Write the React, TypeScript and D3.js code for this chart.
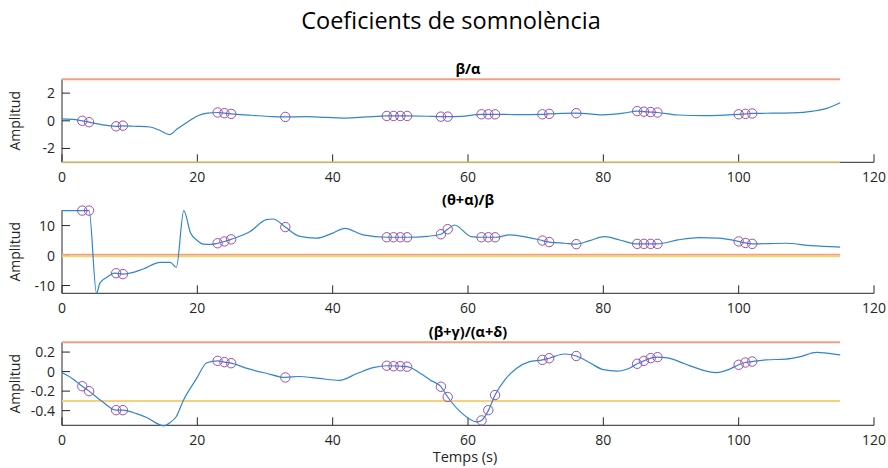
import React from "react";
import * as d3 from "d3";

const W = 888;
const H = 468;

const xTicks = [0, 20, 40, 60, 80, 100, 120];
const eventTimes = [3, 4, 8, 9, 23, 24, 25, 33, 48, 49, 50, 51, 56, 57, 62, 63, 64, 71, 72, 76, 85, 86, 87, 88, 100, 101, 102];

// Subplot 1: beta/alpha
const t1 = [0, 2, 3, 4, 6, 8, 9, 11, 13, 14.5, 15.9, 17, 18.5, 20, 21.5, 23, 24, 25, 28, 31, 33, 36, 39, 42, 45, 48, 51, 54, 56, 57, 59, 62, 64, 67, 71, 72, 76, 78, 80, 83, 85, 86, 87, 88, 91, 95, 100, 101, 102, 105, 108, 111, 113, 115];
const v1 = [0.14, 0.08, 0.0, -0.1, -0.3, -0.4, -0.37, -0.4, -0.45, -0.7, -1.0, -0.6, -0.1, 0.35, 0.55, 0.6, 0.55, 0.5, 0.4, 0.3, 0.28, 0.3, 0.25, 0.2, 0.28, 0.35, 0.35, 0.33, 0.3, 0.3, 0.32, 0.47, 0.47, 0.45, 0.47, 0.5, 0.55, 0.5, 0.43, 0.55, 0.7, 0.66, 0.63, 0.6, 0.42, 0.38, 0.47, 0.5, 0.53, 0.55, 0.57, 0.7, 0.9, 1.3];
const e1 = [0, -0.1, -0.4, -0.35, 0.6, 0.55, 0.5, 0.28, 0.35, 0.35, 0.35, 0.35, 0.3, 0.3, 0.47, 0.47, 0.47, 0.47, 0.5, 0.55, 0.7, 0.66, 0.63, 0.6, 0.47, 0.5, 0.53];

// Subplot 2: (theta+alpha)/beta
const t2 = [0, 4.0, 5.1, 5.6, 6.6, 7.8, 9, 12, 14.5, 16, 16.9, 18.0, 19.0, 19.9, 20.9, 22, 23, 24, 25, 27.8, 30.2, 31.2, 33, 35, 37.6, 40, 41.8, 44.5, 48, 51, 54, 56, 57, 58, 60.5, 62, 64, 66.2, 69, 71, 72, 74.3, 76, 78, 80.2, 82.4, 85, 88, 91, 94.2, 97, 100, 101, 102, 107, 110.7, 115];
const v2 = [15, 15, -12.6, -9.2, -7.3, -5.9, -6.2, -4.5, -2.3, -2.3, -3.9, 15, 7.5, 5.2, 3.8, 3.7, 4.1, 4.7, 5.4, 8.0, 12.0, 12.2, 9.5, 6.5, 5.8, 7.5, 9.1, 6.9, 6.1, 6.1, 6.4, 7.1, 8.8, 10.2, 6.3, 6.1, 6.1, 6.9, 6.0, 5.0, 4.5, 4.1, 3.8, 5.0, 6.3, 5.2, 3.9, 3.9, 5.2, 6.0, 5.8, 4.7, 4.2, 3.9, 4.1, 3.3, 2.8];
const e2 = [15, 15, -5.9, -6.2, 4.1, 4.7, 5.4, 9.5, 6.1, 6.1, 6.1, 6.1, 7.1, 8.8, 6.1, 6.1, 6.1, 5.0, 4.5, 3.8, 3.9, 3.9, 3.9, 3.9, 4.7, 4.2, 3.9];

// Subplot 3: (beta+gamma)/(alpha+delta)
const t3 = [0, 1.5, 3, 4, 6, 8, 9, 11, 12.5, 14, 15, 16, 16.9, 17.9, 19.9, 21.4, 23, 24, 25, 27.5, 30.2, 33, 35, 38, 41, 43.6, 46, 48, 51, 53, 54.4, 56, 57, 59, 61.3, 62, 63, 64, 65.5, 67.2, 69, 71, 72, 74.3, 76, 78, 80, 82, 84, 85, 86, 87, 88, 89.5, 92, 94, 96.7, 98.5, 100, 101, 102, 104, 107, 109, 111.5, 113, 115];
const v3 = [-0.01, -0.07, -0.15, -0.2, -0.31, -0.395, -0.395, -0.43, -0.47, -0.53, -0.556, -0.52, -0.46, -0.3, -0.07, 0.09, 0.11, 0.097, 0.086, 0.03, -0.017, -0.06, -0.05, -0.07, -0.09, -0.02, 0.04, 0.06, 0.05, -0.02, -0.085, -0.155, -0.26, -0.42, -0.515, -0.5, -0.4, -0.24, -0.08, 0.035, 0.1, 0.12, 0.137, 0.18, 0.16, 0.09, 0.02, 0.005, 0.04, 0.08, 0.11, 0.138, 0.148, 0.14, 0.08, 0.03, -0.01, 0.02, 0.07, 0.093, 0.103, 0.12, 0.128, 0.15, 0.196, 0.19, 0.172];
const e3 = [-0.15, -0.2, -0.395, -0.395, 0.11, 0.097, 0.086, -0.06, 0.06, 0.055, 0.055, 0.05, -0.155, -0.26, -0.5, -0.395, -0.24, 0.12, 0.137, 0.16, 0.08, 0.11, 0.138, 0.148, 0.07, 0.093, 0.103];

const titles = ["β/α", "(θ+α)/β", "(β+γ)/(α+δ)"];
const yTicks = [[-2, 0, 2], [-10, 0, 10], [-0.4, -0.2, 0, 0.2]];
const yDomains = [[-3, 3], [-12.6, 15.1], [-0.55, 0.3]];
const upperThr = [3, 0.25, 0.3];
const lowerThr = [-3, -0.25, -0.3];
const thrSpan = [0, 115];

const series = [
  { t: t1, v: v1, e: e1 },
  { t: t2, v: v2, e: e2 },
  { t: t3, v: v3, e: e3 },
];

const L = 62, R = 874;
const tops = [79.3, 210.3, 342.3];
const AH = 83;
const FONT = "'Open Sans', 'DejaVu Sans', sans-serif";
const TXT = "#262626";

function Panel({ i }: { i: number }) {
  const top = tops[i];
  const x = d3.scaleLinear().domain([0, 120]).range([L, R]);
  const y = d3.scaleLinear().domain(yDomains[i]).range([top + AH, top]);
  const s = series[i];
  const pts = s.t.map((t, k) => [t, s.v[k]] as [number, number]);
  const line = d3.line<[number, number]>().x(d => x(d[0])).y(d => y(d[1])).curve(d3.curveMonotoneX);
  const bottom = top + AH;
  return (
    <g>
      <text x={(L + R) / 2} y={top - 5} textAnchor="middle" fontWeight="bold" fontSize={14.5} fill="#000" fontFamily={FONT}>{titles[i]}</text>
      <text transform={`translate(20,${top + AH / 2}) rotate(-90)`} textAnchor="middle" fontSize={14} fill={TXT} fontFamily={FONT}>Amplitud</text>
      {/* axes */}
      <line x1={L} x2={R} y1={bottom} y2={bottom} stroke={TXT} strokeWidth={1} />
      <line x1={L} x2={L} y1={top} y2={bottom} stroke={TXT} strokeWidth={1} />
      {xTicks.map(t => (
        <g key={t}>
          <line x1={x(t)} x2={x(t)} y1={bottom} y2={bottom - 8} stroke={TXT} strokeWidth={1} />
          <text x={x(t)} y={bottom + 19.5} textAnchor="middle" fontSize={14} fill={TXT} fontFamily={FONT}>{t}</text>
        </g>
      ))}
      {yTicks[i].map(t => (
        <g key={t}>
          <line x1={L} x2={L + 8} y1={y(t)} y2={y(t)} stroke={TXT} strokeWidth={1} />
          <text x={L - 7} y={y(t) + 5} textAnchor="end" fontSize={14} fill={TXT} fontFamily={FONT}>{t}</text>
        </g>
      ))}
      {/* thresholds */}
      <line x1={x(thrSpan[0])} x2={x(thrSpan[1])} y1={y(upperThr[i])} y2={y(upperThr[i])} stroke="#f0a084" strokeWidth={2} />
      <line x1={x(thrSpan[0])} x2={x(thrSpan[1])} y1={y(lowerThr[i])} y2={y(lowerThr[i])} stroke="#f6d17a" strokeWidth={2} opacity={i === 0 ? 0.75 : 1} />
      <path d={line(pts) || ""} fill="none" stroke="#2f86cc" strokeWidth={1.2} />
      {eventTimes.map((t, k) => (
        <circle key={k} cx={x(t)} cy={y(s.e[k])} r={4.7} fill="none" stroke="#9c4fb2" strokeWidth={1} />
      ))}
    </g>
  );
}

export default function App() {
  return (
    <svg width={W} height={H} style={{ position: "absolute", left: 0, top: 0, background: "#fff" }}>
      <rect width={W} height={H} fill="#fff" />
      <text x={451} y={29} textAnchor="middle" fontSize={23.5} fill="#000" fontFamily={FONT}>Coeficients de somnolència</text>
      {[0, 1, 2].map(i => <Panel key={i} i={i} />)}
      <text x={465} y={462} textAnchor="middle" fontSize={14.5} fill={TXT} fontFamily={FONT}>Temps (s)</text>
    </svg>
  );
}
